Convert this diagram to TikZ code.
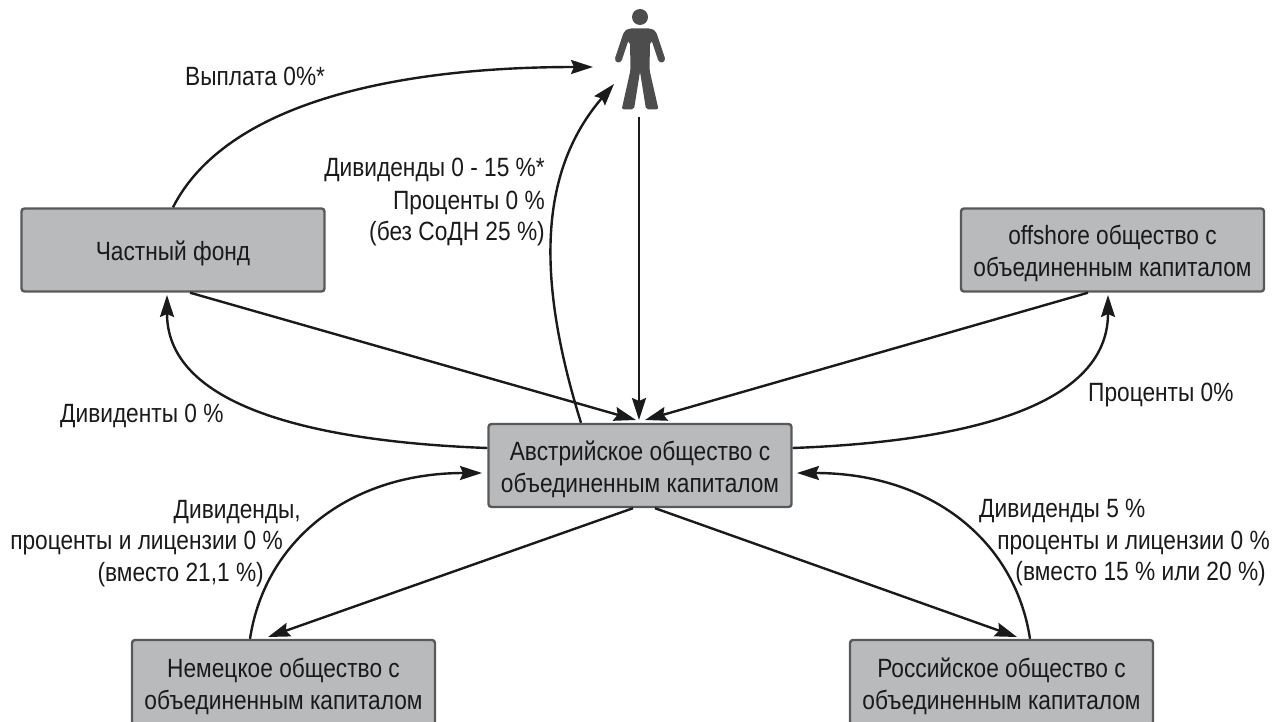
\documentclass[tikz,border=0pt]{standalone}
\usepackage{fontspec}
\setmainfont{Liberation Sans}[FakeStretch=0.86]
\usetikzlibrary{arrows.meta,calc}
\definecolor{boxfill}{HTML}{B9BABC}
\definecolor{boxline}{HTML}{58595B}
\definecolor{ink}{HTML}{1A1A1A}
\definecolor{figure}{HTML}{4D4D4D}
\newcommand{\tallline}{\rule{0pt}{27pt}}
\tikzset{
  x=1pt,y=-1pt,
  orgbox/.style={draw=boxline,fill=boxfill,line width=2.4pt,rounded corners=3pt,minimum width=303pt,minimum height=83pt,inner sep=0pt,align=center,text=ink,font=\fontsize{26.4}{32}\selectfont},
  lbl/.style={text=ink,inner sep=0pt,font=\fontsize{26.4}{32}\selectfont},
  lblr/.style={lbl,anchor=base east},
  lbll/.style={lbl,anchor=base west},
  link/.style={draw=ink,line width=2.4pt},
  arr/.style={link,-{Stealth[length=22pt,width=14pt,inset=3pt]}},
}
\begin{document}
\begin{tikzpicture}
\useasboundingbox (0,0) rectangle (1281,722);
\node[orgbox] (fond) at (173,250) {\tallline Частный фонд};
\node[orgbox] (off) at (1112.5,250) {\tallline offshore общество с\\объединенным капиталом};
\node[orgbox] (aut) at (640,465.5) {\tallline Австрийское общество с\\объединенным капиталом};
\node[orgbox,minimum height=85pt] (ger) at (283.5,682.5) {\tallline Немецкое общество с\\объединенным капиталом};
\node[orgbox,minimum height=85pt] (rus) at (1001.5,682.5) {\tallline Российское общество с\\объединенным капиталом};
% person
\fill[figure] (640,17) circle (8);
\draw[figure,line width=7pt,line cap=round] (626.5,35) -- (618.5,59);
\draw[figure,line width=7pt,line cap=round] (653.5,35) -- (661.5,59);
\fill[figure,rounded corners=2pt] (630,28.3) -- (650,28.3) -- (656,31) -- (657,40) -- (650,42) -- (649.5,70) -- (658.5,109.3) -- (646,109.3) -- (640,71.7) -- (634,109.3) -- (621.7,109.3) -- (630.5,70) -- (630,42) -- (623,40) -- (624,31) -- cycle;
\coordinate (manL) at (593,67);
\coordinate (manD) at (614,84);
\coordinate (manB) at (639,117);
\coordinate (autT) at (639,420);
\coordinate (autTL) at (636,420);
\coordinate (autTR) at (645,420);
\coordinate (autLi) at (482,473);
\coordinate (autRi) at (797,473);
\coordinate (fondIn) at (167,295);
\coordinate (offIn) at (1108,295);
\coordinate (gerIn) at (268,637);
\coordinate (rusIn) at (1017,637);
% connectors
\draw[arr] (fond.north -| 173,0) .. controls (225,105) and (390,67) .. (manL);
\draw[arr] (aut.north -| 581,0) .. controls (535,275) and (540,170) .. (manD);
\draw[arr] (manB) -- (autT);
\draw[arr] (fond.south -| 190,0) -- (autTL);
\draw[arr] (off.south -| 1088,0) -- (autTR);
\draw[arr] (aut.west |- 0,448) .. controls (325,442) and (167,410) .. (fondIn);
\draw[arr] (aut.east |- 0,448) .. controls (955,442) and (1108,410) .. (offIn);
\draw[arr] (ger.north -| 250,0) .. controls (265,540) and (350,473) .. (autLi);
\draw[arr] (rus.north -| 1030,0) .. controls (1015,540) and (930,473) .. (autRi);
\draw[arr] (aut.south -| 633,0) -- (gerIn);
\draw[arr] (aut.south -| 655,0) -- (rusIn);
% labels
\node[lbll] (t1) at (185,86) {Выплата 0\%*};
\node[lblr] (t2) at (545,177) {Дивиденды 0 - 15 \%*};
\node[lblr] (t3) at (545,209) {Проценты 0 \%};
\node[lblr] (t4) at (545,240) {(без СоДН 25 \%)};
\node[lbll] (t5) at (60,422) {Дивиденты 0 \%};
\node[lbll] (t6) at (1088,401) {Проценты 0\%};
\node[lblr] (t7) at (301,518) {Дивиденды,};
\node[lblr] (t8) at (283,549) {проценты и лицензии 0 \%};
\node[lblr] (t9) at (264,581) {(вместо 21,1 \%)};
\node[lbll] (t10) at (979,517) {Дивиденды 5 \%};
\node[lblr] (t11) at (1270,549) {проценты и лицензии 0 \%};
\node[lblr] (t12) at (1266,580) {(вместо 15 \% или 20 \%)};
\end{tikzpicture}
\end{document}
